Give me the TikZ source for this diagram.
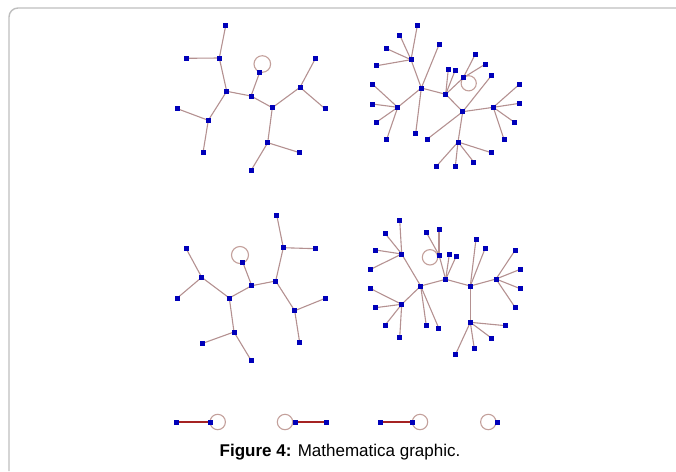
\documentclass[tikz,border=0pt]{standalone}
\usepackage{fontspec}
\setmainfont{Liberation Sans}
\usetikzlibrary{backgrounds}
\definecolor{nodeblue}{RGB}{0,0,185}
\definecolor{edgec}{RGB}{180,145,145}
\definecolor{loopc}{RGB}{195,160,155}
\definecolor{darkedge}{RGB}{165,35,35}
\definecolor{framec}{RGB}{190,190,190}
\tikzset{
  v/.style={rectangle,fill=nodeblue,minimum size=5pt,inner sep=0pt},
  ed/.style={draw=edgec,line width=1.1pt},
  lp/.style={draw=loopc,line width=1.1pt},
  dk/.style={draw=darkedge,line width=1.4pt},
}
\begin{document}
\begin{tikzpicture}[x=1pt,y=-1pt]
\useasboundingbox (0,0) rectangle (676,471);
% frame
\draw[framec,line width=1.4pt] (9,471) -- (9,17) arc[start angle=180,end angle=90,radius=9pt] -- (676,8);

% ---------- Graph 1 (top-left) ----------
\node[v] (A) at (225.7,25.7) {};
\node[v] (B) at (219.3,58) {};
\node[v] (C) at (186,58.3) {};
\node[v] (D) at (226.7,91.3) {};
\node[v] (E) at (251,96) {};
\node[v] (F) at (259.7,72.3) {};
\node[v] (G) at (272.3,107.7) {};
\node[v] (H) at (300,87.3) {};
\node[v] (I) at (315.7,58) {};
\node[v] (J) at (325,108.7) {};
\node[v] (K) at (177.3,108.7) {};
\node[v] (L) at (208.3,120.3) {};
\node[v] (M) at (203,152.7) {};
\node[v] (N) at (267.7,142.7) {};
\node[v] (O) at (299.7,152.7) {};
\node[v] (P) at (251.3,170) {};
\coordinate (Fl) at (262.3,64);

% ---------- Graph 2 (top-right) ----------
\node[v] (a1) at (417.3,25.7) {};
\node[v] (a2) at (399.7,35) {};
\node[v] (a3) at (386.7,48.7) {};
\node[v] (a4) at (411,59.7) {};
\node[v] (a5) at (376.7,65.7) {};
\node[v] (a6) at (439,44.7) {};
\node[v] (a7) at (421.3,88) {};
\node[v] (a8) at (372.3,84) {};
\node[v] (a9) at (372.3,104) {};
\node[v] (a10) at (397.7,107.3) {};
\node[v] (a11) at (376.7,122) {};
\node[v] (a12) at (386.7,139.3) {};
\node[v] (a13) at (415.7,133.3) {};
\node[v] (a14) at (445.7,94.3) {};
\node[v] (a15) at (448.3,69) {};
\node[v] (a16) at (455,70.7) {};
\node[v] (a17) at (463.3,77.7) {};
\node[v] (a18) at (475,54.7) {};
\node[v] (a19) at (485,64.3) {};
\node[v] (a20) at (462.7,111.7) {};
\node[v] (a21) at (491.3,75.7) {};
\node[v] (a22) at (427,139.3) {};
\node[v] (a23) at (493.3,107.3) {};
\node[v] (a24) at (519.7,84) {};
\node[v] (a25) at (519.7,103.3) {};
\node[v] (a26) at (514,122) {};
\node[v] (a27) at (504,139.3) {};
\node[v] (a28) at (458,142) {};
\node[v] (a29) at (491.3,152.7) {};
\node[v] (a30) at (473.7,162) {};
\node[v] (a31) at (455.3,166.7) {};
\node[v] (a32) at (436,166.7) {};
\coordinate (a17l) at (468.7,83.3);

% ---------- Graph 3 (bottom-left) ----------
\node[v] (b1) at (276.7,215) {};
\node[v] (b2) at (283.3,247.7) {};
\node[v] (b3) at (315.7,248.7) {};
\node[v] (b4) at (275.7,281) {};
\node[v] (b5) at (251.7,285.7) {};
\node[v] (b6) at (242.7,262) {};
\node[v] (b7) at (229.3,298) {};
\node[v] (b8) at (201.7,277.3) {};
\node[v] (b9) at (186,248.3) {};
\node[v] (b10) at (177.3,298) {};
\node[v] (b11) at (234,332) {};
\node[v] (b12) at (202.7,343.3) {};
\node[v] (b13) at (251.3,360.7) {};
\node[v] (b14) at (294.7,310.7) {};
\node[v] (b15) at (325.3,298.3) {};
\node[v] (b16) at (299.7,342.7) {};
\coordinate (b6l) at (240,255);

% ---------- Graph 4 (bottom-right) ----------
\node[v] (c1) at (399.7,220) {};
\node[v] (c2) at (385,233.3) {};
\node[v] (c3) at (375.7,250) {};
\node[v] (c4) at (401.7,254) {};
\node[v] (c5) at (370.7,269.3) {};
\node[v] (c6) at (420.7,286) {};
\node[v] (c7) at (370.7,288.7) {};
\node[v] (c8) at (375.3,307.7) {};
\node[v] (c9) at (401.7,304.3) {};
\node[v] (c10) at (385,325.3) {};
\node[v] (c11) at (399.7,337.7) {};
\node[v] (c12) at (426.3,325.7) {};
\node[v] (c13) at (438.7,328) {};
\node[v] (c14) at (445.7,279.3) {};
\node[v] (c15) at (439,255) {};
\node[v] (c16) at (426.3,232.3) {};
\node[v] (c17) at (439,229.3) {};
\node[v] (c18) at (449.3,254.3) {};
\node[v] (c19) at (456,256.7) {};
\node[v] (c20) at (470.3,286) {};
\node[v] (c21) at (476,239) {};
\node[v] (c22) at (485,248.7) {};
\node[v] (c23) at (496,279) {};
\node[v] (c24) at (515.3,250) {};
\node[v] (c25) at (520.3,269.3) {};
\node[v] (c26) at (520.3,288.7) {};
\node[v] (c27) at (515.3,307.7) {};
\node[v] (c28) at (470.3,322.3) {};
\node[v] (c29) at (505.7,325.7) {};
\node[v] (c30) at (491.3,338) {};
\node[v] (c31) at (474.3,348.7) {};
\node[v] (c32) at (455.7,354) {};
\coordinate (c15l) at (430,257.3);

% ---------- bottom row ----------
\node[v] (d1) at (176.7,422) {};
\node[v] (d2) at (210,422) {};
\coordinate (d2l) at (217.7,422);
\node[v] (e1) at (295,422) {};
\node[v] (e2) at (326.7,422) {};
\coordinate (e1l) at (285,422);
\node[v] (f1) at (380,422) {};
\node[v] (f2) at (412.3,422) {};
\coordinate (f2l) at (420,422);
\node[v] (g1) at (497.7,422) {};
\coordinate (g1l) at (488.3,422);

\begin{pgfonlayer}{background}
% graph 1 edges
\draw[ed] (A.center)--(B.center) (C.center)--(B.center) (B.center)--(D.center)
  (D.center)--(E.center) (E.center)--(F.center) (E.center)--(G.center)
  (G.center)--(H.center) (H.center)--(I.center) (H.center)--(J.center)
  (D.center)--(L.center) (K.center)--(L.center) (L.center)--(M.center)
  (G.center)--(N.center) (N.center)--(O.center) (N.center)--(P.center);
\draw[lp] (Fl) circle[radius=8.3pt];
% graph 2 edges
\foreach \s/\t in {a1/a4,a2/a4,a3/a4,a5/a4,a4/a7,a6/a7,a7/a10,a8/a10,a9/a10,a11/a10,a12/a10,
  a7/a13,a7/a14,a14/a15,a14/a16,a14/a17,a17/a18,a17/a19,a14/a20,a20/a21,a20/a22,a20/a23,
  a23/a24,a23/a25,a23/a26,a23/a27,a20/a28,a28/a29,a28/a30,a28/a31,a28/a32}
  \draw[ed] (\s.center)--(\t.center);
\draw[lp] (a17l) circle[radius=7.6pt];
% graph 3 edges
\foreach \s/\t in {b1/b2,b2/b3,b2/b4,b4/b5,b5/b6,b5/b7,b7/b8,b8/b9,b8/b10,b7/b11,b11/b12,
  b11/b13,b4/b14,b14/b15,b14/b16}
  \draw[ed] (\s.center)--(\t.center);
\draw[lp] (b6l) circle[radius=8.5pt];
% graph 4 edges
\foreach \s/\t in {c1/c4,c2/c4,c3/c4,c5/c4,c4/c6,c6/c9,c7/c9,c8/c9,c10/c9,c11/c9,c6/c12,
  c6/c13,c6/c14,c14/c15,c14/c18,c14/c19,c15/c16,c15/c17,c14/c20,c20/c21,c20/c22,c20/c23,
  c23/c24,c23/c25,c23/c26,c23/c27,c20/c28,c28/c29,c28/c30,c28/c31,c28/c32}
  \draw[ed] (\s.center)--(\t.center);
\draw[lp] (c15l) circle[radius=7.7pt];
% bottom row
\draw[dk] (d1.center)--(d2.center);
\draw[lp] (d2l) circle[radius=7.7pt];
\draw[dk] (e1.center)--(e2.center);
\draw[lp] (e1l) circle[radius=7.7pt];
\draw[dk] (f1.center)--(f2.center);
\draw[lp] (f2l) circle[radius=7.7pt];
\draw[lp] (g1l) circle[radius=7.7pt];
\end{pgfonlayer}

% caption
\node[anchor=base,font=\fontsize{17}{20}\selectfont,inner sep=0pt] (cap) at (340,456)
  {\textbf{Figure 4:} Mathematica graphic.};
\end{tikzpicture}
\end{document}
